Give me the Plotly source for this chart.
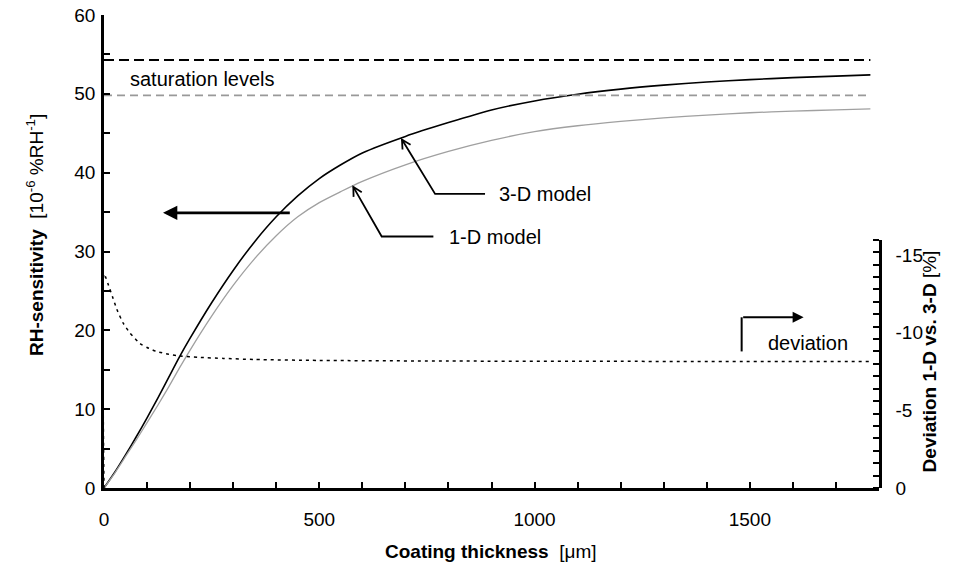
import math
import plotly.graph_objects as go

# ---------------- data ----------------
thickness = [0, 25, 50, 75, 100, 125, 150, 175, 200, 250, 300, 350, 400, 450, 500, 550,
             600, 700, 800, 900, 1000, 1100, 1200, 1300, 1400, 1500, 1600, 1700, 1780]
sens_3d = [0, 2.0, 4.2, 6.5, 8.9, 11.4, 14.0, 16.6, 19.0, 23.5, 27.6, 31.25, 34.4, 37.05, 39.25, 41.0,
           42.5, 44.6, 46.35, 47.95, 49.1, 49.95, 50.6, 51.1, 51.5, 51.8, 52.05, 52.25, 52.4]
sens_1d = [0, 1.9, 4.0, 6.1, 8.3, 10.5, 12.8, 15.2, 17.5, 21.8, 25.7, 29.1, 32.0, 34.4, 36.2, 37.6,
           38.9, 41.0, 42.7, 44.1, 45.2, 45.95, 46.5, 46.95, 47.3, 47.6, 47.8, 47.97, 48.1]
saturation_3d = 54.3
saturation_1d = 49.8

dev_thickness = [0, 0, 5, 10, 20, 30, 45, 60, 84, 100, 122, 150, 177, 220, 277, 350, 500,
                 800, 1200, 1780]
deviation = [0, -13.8, -13.5, -13.1, -12.3, -11.5, -10.6, -10.0, -9.3, -9.05, -8.8, -8.62,
             -8.5, -8.42, -8.35, -8.28, -8.22, -8.18, -8.16, -8.15]

x_ticks = [0, 500, 1000, 1500]
y_ticks = [0, 10, 20, 30, 40, 50, 60]
y2_ticks = [0, -5, -10, -15]
y2_ticktext = ["0", "-5", "-10", "-15"]

FONT = "Liberation Sans, Arial, sans-serif"
W, H = 963, 571
ML, MR, MT, MB = 104, 84, 15, 83
XR = [0, 1800]
YR = [0, 60]
Y2_DOMAIN = [0, 0.525]
Y2R = [0, -16]
TICK_FS = 19
ANN_FS = 20
TITLE_FS = 19

fig = go.Figure()

fig.add_trace(go.Scatter(x=thickness, y=sens_3d, mode="lines",
                         line=dict(color="black", width=1.6, shape="spline", smoothing=0.7),
                         hoverinfo="skip"))
fig.add_trace(go.Scatter(x=thickness, y=sens_1d, mode="lines",
                         line=dict(color="#a0a0a0", width=1.3, shape="spline", smoothing=0.7),
                         hoverinfo="skip"))
fig.add_trace(go.Scatter(x=[thickness[0], thickness[-1]], y=[saturation_3d, saturation_3d],
                         mode="lines", line=dict(color="black", width=2, dash="10px,5px"),
                         hoverinfo="skip"))
fig.add_trace(go.Scatter(x=[thickness[0], thickness[-1]], y=[saturation_1d, saturation_1d],
                         mode="lines", line=dict(color="#999999", width=1.8, dash="8px,5px"),
                         hoverinfo="skip"))
fig.add_trace(go.Scatter(x=dev_thickness, y=deviation, mode="lines", yaxis="y2",
                         line=dict(color="black", width=1.5, dash="3px,4px", shape="spline",
                                   smoothing=0.6),
                         hoverinfo="skip"))

# ------------- helpers for annotation arrows (pixel-based offsets) -------------
pw = W - ML - MR
ph = H - MT - MB
kx = pw / (XR[1] - XR[0])          # px per x unit
ky = ph / (YR[1] - YR[0])          # px per y unit


def v_head(hx, hy, fx, fy, length=10, ang=28):
    """open V arrowhead at (hx,hy) coming from (fx,fy), in data coords of x/y."""
    dx = (hx - fx) * kx
    dy = -(hy - fy) * ky
    n = math.hypot(dx, dy)
    ux, uy = dx / n, dy / n
    pts = []
    for s in (1, -1):
        a = math.radians(ang) * s
        bx = -(ux * math.cos(a) - uy * math.sin(a)) * length
        by = -(ux * math.sin(a) + uy * math.cos(a)) * length
        pts.append((hx + bx / kx, hy - by / ky))
    return "M {} {} L {} {} L {} {}".format(pts[0][0], pts[0][1], hx, hy, pts[1][0], pts[1][1])


shapes = []
annotations = []
LINE = dict(color="black", width=1.8)

# 3-D model pointer
h3 = (692, 44.2); e3 = (769, 37.3); t3 = (885, 37.3)
shapes.append(dict(type="path", xref="x", yref="y", line=LINE,
                   path="M {} {} L {} {} L {} {}".format(t3[0], t3[1], e3[0], e3[1], h3[0], h3[1])))
shapes.append(dict(type="path", xref="x", yref="y", line=LINE, path=v_head(h3[0], h3[1], e3[0], e3[1])))
annotations.append(dict(x=912, y=37.3, xref="x", yref="y", text="3-D model", showarrow=False,
                        xanchor="left", yanchor="middle", font=dict(size=ANN_FS, color="black")))

# 1-D model pointer
h1 = (579, 38.2); e1 = (645, 31.9); t1 = (765, 31.9)
shapes.append(dict(type="path", xref="x", yref="y", line=LINE,
                   path="M {} {} L {} {} L {} {}".format(t1[0], t1[1], e1[0], e1[1], h1[0], h1[1])))
shapes.append(dict(type="path", xref="x", yref="y", line=LINE, path=v_head(h1[0], h1[1], e1[0], e1[1])))
annotations.append(dict(x=796, y=31.9, xref="x", yref="y", text="1-D model", showarrow=False,
                        xanchor="left", yanchor="middle", font=dict(size=ANN_FS, color="black")))

# saturation label
annotations.append(dict(x=56, y=51.9, xref="x", yref="y", text="saturation levels", showarrow=False,
                        xanchor="left", yanchor="middle", font=dict(size=ANN_FS, color="black")))

# left-pointing arrow (sensitivity -> left axis)
annotations.append(dict(x=137, y=34.9, ax=435, ay=34.9, xref="x", yref="y", axref="x", ayref="y",
                        text="", showarrow=True, arrowhead=2, arrowsize=1.1, arrowwidth=2.6,
                        arrowcolor="black"))

# deviation pointer (-> right axis)
shapes.append(dict(type="line", xref="x", yref="y2", x0=1481, x1=1481, y0=-8.8, y1=-11.0,
                   line=dict(color="black", width=2)))
annotations.append(dict(x=1625, y=-11.0, ax=1481, ay=-11.0, xref="x", yref="y2", axref="x", ayref="y2",
                        text="", showarrow=True, arrowhead=2, arrowsize=1.1, arrowwidth=2,
                        arrowcolor="black"))
annotations.append(dict(x=1537, y=-9.34, xref="x", yref="y2", text="deviation", showarrow=False,
                        xanchor="left", yanchor="middle", font=dict(size=ANN_FS, color="black")))

# axis titles
annotations.append(dict(xref="paper", yref="paper", x=-0.089, y=0.535, textangle=-90,
                        text="<b>RH-sensitivity</b>  [10<sup>-6</sup> %RH<sup>-1</sup>]",
                        showarrow=False, xanchor="center", yanchor="middle",
                        font=dict(size=TITLE_FS, color="black")))
annotations.append(dict(xref="paper", yref="paper", x=1.0654, y=0.267, textangle=-90,
                        text="<b>Deviation 1-D vs. 3-D</b> [%]",
                        showarrow=False, xanchor="center", yanchor="middle",
                        font=dict(size=TITLE_FS, color="black")))
annotations.append(dict(xref="paper", yref="paper", x=0.499, y=-0.135,
                        text="<b>Coating thickness</b>  [μm]",
                        showarrow=False, xanchor="center", yanchor="middle",
                        font=dict(size=TITLE_FS, color="black")))

axis_common = dict(showline=True, linecolor="black", linewidth=2.5, showgrid=False, zeroline=False,
                   ticks="inside", ticklen=6, tickwidth=2, tickcolor="black",
                   tickfont=dict(size=TICK_FS, color="black", family=FONT))

fig.update_layout(
    width=W, height=H,
    margin=dict(l=ML, r=MR, t=MT, b=MB, autoexpand=False),
    paper_bgcolor="white", plot_bgcolor="rgba(0,0,0,0)",
    font=dict(family=FONT, color="black"),
    showlegend=False,
    xaxis=dict(range=XR, tickvals=x_ticks, anchor="y", ticklabelstandoff=12,
               minor=dict(dtick=100, tick0=0, ticks="inside", ticklen=6, tickwidth=2, tickcolor="black"),
               **axis_common),
    yaxis=dict(range=YR, tickvals=y_ticks, anchor="x", ticklabelstandoff=2,
               minor=dict(dtick=5, tick0=0, ticks="inside", ticklen=6, tickwidth=2, tickcolor="black"),
               **axis_common),
    yaxis2=dict(range=Y2R, domain=Y2_DOMAIN, anchor="x", side="right",
                tickvals=y2_ticks, ticktext=y2_ticktext, ticklabelstandoff=10,
                showline=True, linecolor="black", linewidth=2.5, showgrid=False, zeroline=False,
                ticks="", tickfont=dict(size=TICK_FS, color="black", family=FONT),
                minor=dict(tickmode="linear", dtick=0.8, tick0=0, ticks="inside", ticklen=6,
                           tickwidth=2, tickcolor="black")),
    shapes=shapes,
    annotations=annotations,
)

fig.write_html("out.html")
